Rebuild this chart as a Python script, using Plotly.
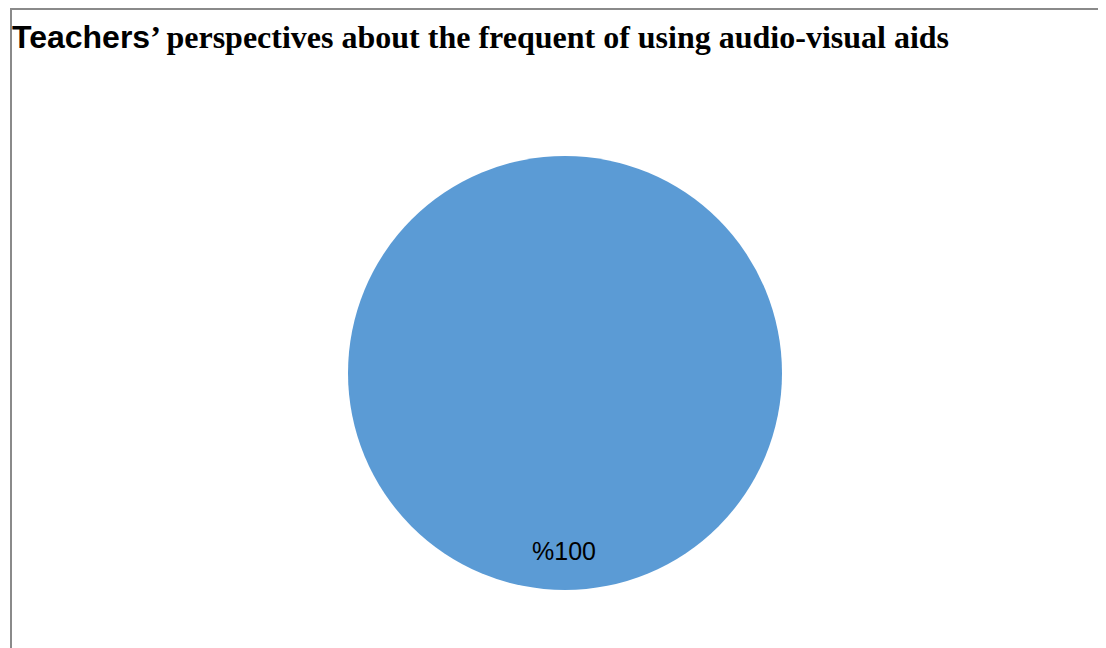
import plotly.graph_objects as go

categories = ["Always"]
values = [100]
title_lead = "Teachers"
title_rest = "’ perspectives about the frequent of using audio-visual aids"

W, H = 1106, 648
OFF = 8  # page body margin offset
total = sum(values)
pct_labels = [f"%{round(100 * v / total)}" for v in values]


def px(x):
    return (x - OFF) / W


def py(y):
    return 1 - (y - OFF) / H


fig = go.Figure()
fig.add_trace(go.Pie(
    labels=categories,
    values=values,
    marker=dict(colors=["#5B9BD5"], line=dict(width=0)),
    textinfo="none",
    sort=False,
    showlegend=False,
    hoverinfo="label+percent",
    domain=dict(x=[px(348), px(782)], y=[py(590), py(156)]),
))

fig.add_annotation(
    text=pct_labels[0], x=px(564), y=py(551), xref="paper", yref="paper",
    showarrow=False, font=dict(family="Liberation Sans, Arial", size=25, color="black"),
    xanchor="center", yanchor="middle",
)

title_html = (
    f"<span style='font-family:Liberation Sans Narrow, Arial Narrow, Liberation Sans'>{title_lead}</span>"
    f"<span style='font-family:Liberation Serif, Times New Roman'>{title_rest}</span>"
)
fig.update_layout(
    width=W, height=H,
    margin=dict(l=0, r=0, t=0, b=0),
    paper_bgcolor="white",
    plot_bgcolor="white",
    title=dict(
        text=f"<b>{title_html}</b>",
        x=px(12), xanchor="left", xref="paper",
        y=1 - 29 / H, yanchor="middle", yref="container",
        font=dict(size=32, color="black", family="Liberation Serif"),
    ),
    shapes=[
        dict(type="line", xref="paper", yref="paper", x0=px(10), x1=1, y0=py(9), y1=py(9),
             line=dict(color="#8a8a8a", width=2)),
        dict(type="line", xref="paper", yref="paper", x0=px(11), x1=px(11), y0=0, y1=py(9),
             line=dict(color="#8a8a8a", width=2)),
    ],
)

fig.write_html("out.html")
